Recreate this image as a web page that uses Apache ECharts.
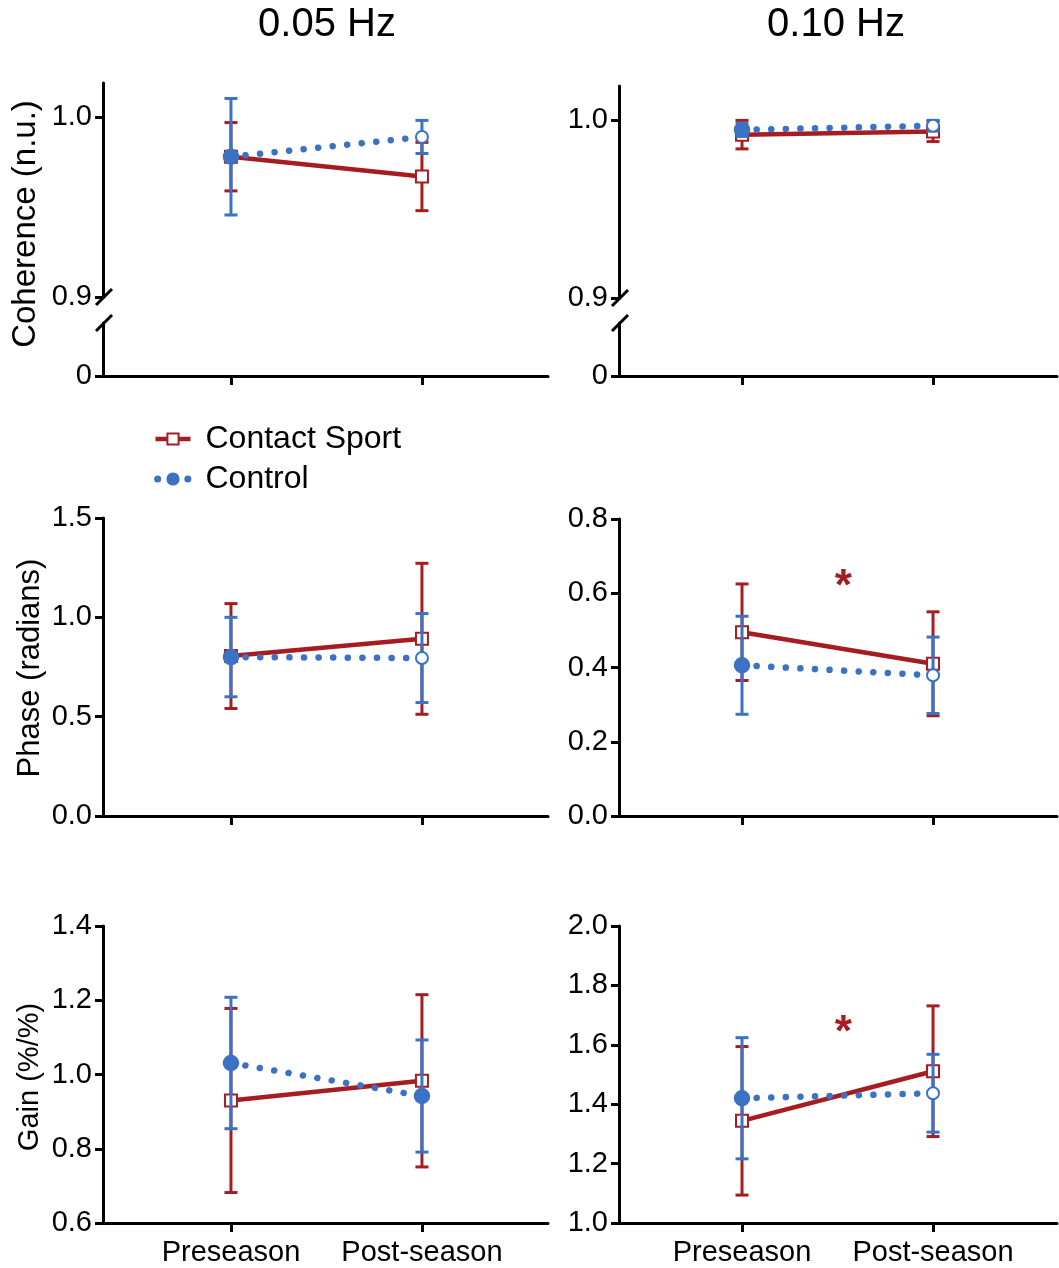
<!DOCTYPE html>
<html><head><meta charset="utf-8">
<script src="https://cdn.jsdelivr.net/npm/echarts@6/dist/echarts.min.js"></script>
<style>html,body{margin:0;padding:0;background:#fff}#c{width:1059px;height:1268px}</style>
</head><body><div id="c"></div>
<script>
// ---------------- data ----------------
const categories = ['Preseason', 'Post-season'];
const frequencies = ['0.05 Hz', '0.10 Hz'];
const groups = ['Contact Sport', 'Control'];
const measures = ['Coherence (n.u.)', 'Phase (radians)', 'Gain (%/%)'];

// means [Preseason, Post-season] and SD
const coh005_cs_mean = [0.978, 0.967];   const coh005_cs_sd = [0.019, 0.019];
const coh005_ct_mean = [0.978, 0.989];   const coh005_ct_sd = [0.0324, 0.0092];
const coh010_cs_mean = [0.9917, 0.9935]; const coh010_cs_sd = [0.008, 0.0057];
const coh010_ct_mean = [0.9944, 0.9967]; const coh010_ct_sd = [0.0037, 0.003];
const ph005_cs_mean = [0.805, 0.892];    const ph005_cs_sd = [0.264, 0.38];
const ph005_ct_mean = [0.80, 0.795];     const ph005_ct_sd = [0.20, 0.224];
const ph010_cs_mean = [0.495, 0.41];     const ph010_cs_sd = [0.13, 0.14];
const ph010_ct_mean = [0.406, 0.379];    const ph010_ct_sd = [0.132, 0.103];
const gain005_cs_mean = [0.93, 0.983];   const gain005_cs_sd = [0.248, 0.232];
const gain005_ct_mean = [1.031, 0.942];  const gain005_ct_sd = [0.177, 0.151];
const gain010_cs_mean = [1.344, 1.511];  const gain010_cs_sd = [0.25, 0.22];
const gain010_ct_mean = [1.42, 1.437];   const gain010_ct_sd = [0.204, 0.131];

// tick labels
const cohUpperTicks = [0.9, 1.0];
const cohLowerTicks = [0];
const ph005Ticks = [0, 0.5, 1.0, 1.5];
const ph010Ticks = [0, 0.2, 0.4, 0.6, 0.8];
const gain005Ticks = [0.6, 0.8, 1.0, 1.2, 1.4];
const gain010Ticks = [1.0, 1.2, 1.4, 1.6, 1.8, 2.0];
const cohUpperMax = 1.019;

// significance markers: [panel, x, y]
const sigMarks = [['ph010', 0.53, 0.614], ['gain010', 0.53, 1.638]];

// ---------------- layout / style ----------------
const RED = '#A51D21', BLUE = '#3B72C4', BLACK = '#000';
const FONT = '"Liberation Sans", Arial, Helvetica, sans-serif';
const colX = [{left: 103, width: 445, min: -0.67, max: 1.66}, {left: 619, width: 438, min: -0.644, max: 1.649}];

const panels = {
  coh005: {cs: [coh005_cs_mean, coh005_cs_sd], ct: [coh005_ct_mean, coh005_ct_sd], postSym: 'emptyCircle'},
  coh010: {cs: [coh010_cs_mean, coh010_cs_sd], ct: [coh010_ct_mean, coh010_ct_sd], postSym: 'emptyCircle'},
  ph005: {cs: [ph005_cs_mean, ph005_cs_sd], ct: [ph005_ct_mean, ph005_ct_sd], postSym: 'emptyCircle'},
  ph010: {cs: [ph010_cs_mean, ph010_cs_sd], ct: [ph010_ct_mean, ph010_ct_sd], postSym: 'emptyCircle'},
  gain005: {cs: [gain005_cs_mean, gain005_cs_sd], ct: [gain005_ct_mean, gain005_ct_sd], postSym: 'circle'},
  gain010: {cs: [gain010_cs_mean, gain010_cs_sd], ct: [gain010_ct_mean, gain010_ct_sd], postSym: 'emptyCircle'}
};

const gridDefs = [
  {col: 0, top: 83, height: 214, ticks: cohUpperTicks, min: 0.9, max: cohUpperMax, xLine: false, xLabel: false, panel: 'coh005', fmt: v => v.toFixed(1)},
  {col: 0, top: 323, height: 53, ticks: cohLowerTicks, min: 0, max: 1, xLine: true, xLabel: false, panel: null, fmt: v => String(v)},
  {col: 1, top: 86, height: 212, ticks: cohUpperTicks, min: 0.9, max: cohUpperMax, xLine: false, xLabel: false, panel: 'coh010', fmt: v => v.toFixed(1)},
  {col: 1, top: 323, height: 53, ticks: cohLowerTicks, min: 0, max: 1, xLine: true, xLabel: false, panel: null, fmt: v => String(v)},
  {col: 0, top: 518, height: 298, ticks: ph005Ticks, min: 0, max: 1.5, xLine: true, xLabel: false, panel: 'ph005', fmt: v => v.toFixed(1)},
  {col: 1, top: 519, height: 297, ticks: ph010Ticks, min: 0, max: 0.8, xLine: true, xLabel: false, panel: 'ph010', fmt: v => v.toFixed(1)},
  {col: 0, top: 926, height: 297, ticks: gain005Ticks, min: 0.6, max: 1.4, xLine: true, xLabel: true, panel: 'gain005', fmt: v => v.toFixed(1)},
  {col: 1, top: 926, height: 297, ticks: gain010Ticks, min: 1.0, max: 2.0, xLine: true, xLabel: true, panel: 'gain010', fmt: v => v.toFixed(1)}
];

const grid = [], xAxis = [], yAxis = [], series = [];
const panelGrid = {};
gridDefs.forEach((g, i) => {
  const c = colX[g.col];
  grid.push({left: c.left, top: g.top, width: c.width, height: g.height, containLabel: false});
  xAxis.push({
    type: 'value', gridIndex: i, min: c.min, max: c.max,
    splitLine: {show: false},
    axisLine: {show: g.xLine, onZero: false, lineStyle: {color: BLACK, width: 3}},
    axisTick: {show: g.xLine, customValues: [0, 1], length: 9, lineStyle: {color: BLACK, width: 3}},
    axisLabel: {show: g.xLabel, customValues: [0, 1], formatter: v => categories[Math.round(v)] || '',
      fontSize: 29, color: BLACK, fontFamily: FONT, margin: 15}
  });
  yAxis.push({
    type: 'value', gridIndex: i, min: g.min, max: g.max,
    splitLine: {show: false},
    axisLine: {show: true, onZero: false, lineStyle: {color: BLACK, width: 3}},
    axisTick: {show: true, customValues: g.ticks, length: 8, lineStyle: {color: BLACK, width: 3}},
    axisLabel: {customValues: g.ticks, formatter: g.fmt, fontSize: 29, color: BLACK, fontFamily: FONT, margin: 11}
  });
  if (g.panel) panelGrid[g.panel] = i;
});

function errorBars(gi, mean, sd, color, z) {
  return {
    type: 'custom', xAxisIndex: gi, yAxisIndex: gi, z: z, silent: true,
    encode: {x: 0, y: [1, 2]},
    data: mean.map((m, i) => [i, m - sd[i], m + sd[i]]),
    renderItem: (params, api) => {
      const x = api.value(0);
      const lo = api.coord([x, api.value(1)]);
      const hi = api.coord([x, api.value(2)]);
      const hw = 6.5;
      const st = {stroke: color, lineWidth: 3};
      return {type: 'group', children: [
        {type: 'line', shape: {x1: lo[0], y1: lo[1], x2: hi[0], y2: hi[1]}, style: st},
        {type: 'line', shape: {x1: lo[0] - hw, y1: lo[1], x2: lo[0] + hw, y2: lo[1]}, style: st},
        {type: 'line', shape: {x1: hi[0] - hw, y1: hi[1], x2: hi[0] + hw, y2: hi[1]}, style: st}
      ]};
    }
  };
}

Object.keys(panels).forEach(key => {
  const p = panels[key];
  const gi = panelGrid[key];
  const [csM, csS] = p.cs, [ctM, ctS] = p.ct;
  series.push(errorBars(gi, csM, csS, RED, 2));
  series.push({
    type: 'line', name: groups[0], xAxisIndex: gi, yAxisIndex: gi, z: 3, silent: true,
    data: csM.map((m, i) => [i, m]),
    symbol: 'emptyRect', symbolSize: 12, showAllSymbol: true,
    itemStyle: {color: RED, borderWidth: 3},
    lineStyle: {color: RED, width: 4.5}
  });
  series.push(errorBars(gi, ctM, ctS, BLUE, 4));
  series.push({
    type: 'line', name: groups[1], xAxisIndex: gi, yAxisIndex: gi, z: 5, silent: true,
    data: ctM.map((m, i) => {
      const sym = i === 0 ? 'circle' : p.postSym;
      return {value: [i, m], symbol: sym, symbolSize: sym === 'circle' ? 14 : 12};
    }),
    symbol: 'circle', symbolSize: 14, showAllSymbol: true,
    itemStyle: {color: BLUE, borderWidth: 2.5, borderColor: BLUE},
    lineStyle: {color: BLUE, width: 6.5, type: [0.1, 14.5], cap: 'round'}
  });
});

sigMarks.forEach(([key, x, y]) => {
  const gi = panelGrid[key];
  series.push({
    type: 'custom', xAxisIndex: gi, yAxisIndex: gi, z: 6, silent: true,
    data: [[x, y]],
    renderItem: (params, api) => {
      const pt = api.coord([api.value(0), api.value(1)]);
      return {type: 'text', x: pt[0], y: pt[1],
        style: {text: '*', fill: RED, fontSize: 44, fontWeight: 'bold', fontFamily: FONT,
          textAlign: 'center', textVerticalAlign: 'middle'}};
    }
  });
});

// decorations: titles, axis names, axis-break slashes
const graphic = [];
[327, 836].forEach((x, i) => graphic.push({type: 'text', x: x, y: 25,
  style: {text: frequencies[i], fontSize: 40, fill: BLACK, fontFamily: FONT, textAlign: 'center', textVerticalAlign: 'middle'}}));
[[26, 224, 33], [30, 668, 31], [30, 1077, 29]].forEach(([x, y, fs], i) => graphic.push({type: 'text', x: x, y: y, rotation: Math.PI / 2,
  style: {text: measures[i], fontSize: fs, fill: BLACK, fontFamily: FONT, textAlign: 'center', textVerticalAlign: 'middle'}}));
[[103, 297], [619, 298]].forEach(([ax, y09]) => {
  graphic.push({type: 'line', shape: {x1: ax - 7, y1: y09 + 8, x2: ax + 9, y2: y09 - 8}, style: {stroke: BLACK, lineWidth: 3}});
  graphic.push({type: 'line', shape: {x1: ax - 7, y1: 331, x2: ax + 9, y2: 315}, style: {stroke: BLACK, lineWidth: 3}});
});

const chart = echarts.init(document.getElementById('c'), null, {renderer: 'canvas'});
chart.setOption({
  animation: false,
  backgroundColor: '#fff',
  grid, xAxis, yAxis, series, graphic,
  legend: {
    data: [
      {name: groups[0], lineStyle: {width: 4.5}},
      {name: groups[1], lineStyle: {width: 7, type: [0.1, 15], dashOffset: 13, cap: 'round'}}
    ],
    left: 152, top: 423, orient: 'vertical', itemWidth: 35, itemHeight: 14, itemGap: 8,
    padding: 0, selectedMode: false,
    textStyle: {fontSize: 32, color: BLACK, fontFamily: FONT, padding: [0, 0, 0, 10]}
  }
});
</script></body></html>
